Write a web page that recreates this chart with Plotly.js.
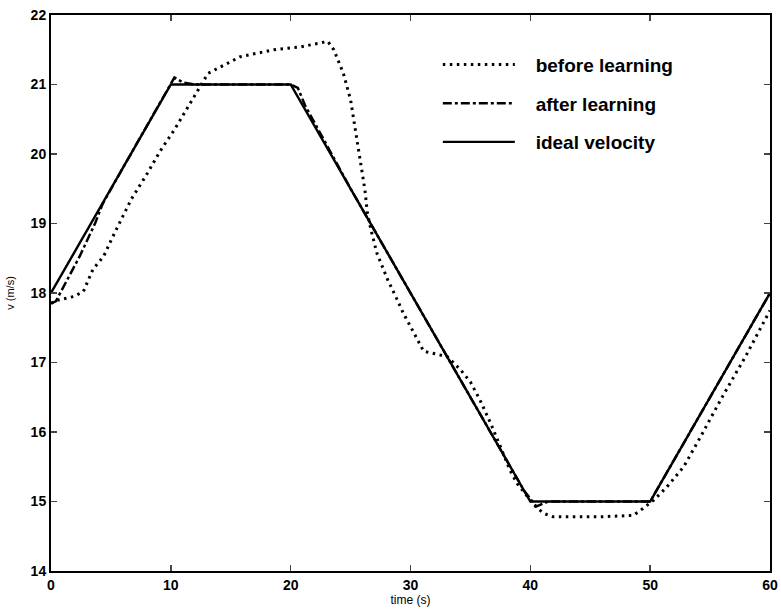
<!DOCTYPE html>
<html>
<head>
<meta charset="utf-8">
<script src="https://cdn.plot.ly/plotly-3.0.1.min.js"></script>
<style>html,body{margin:0;padding:0;background:#fff;}#chart{width:781px;height:614px;}</style>
</head>
<body>
<div id="chart"></div>
<script>
const idealT = [0, 10, 20, 40, 50, 60];
const idealV = [18, 21, 21, 15, 15, 18];

const afterT = [0, 0.4, 1.2, 2.4, 3.7, 4.3, 6, 8, 9.5, 10.3, 11, 12, 15, 18, 20, 20.6, 21.2, 25, 30, 35, 39.5, 40.5, 41.5, 45, 50, 52, 55, 58, 60];
const afterV = [17.85, 17.88, 18.14, 18.53, 19.01, 19.28, 19.8, 20.4, 20.85, 21.1, 21.03, 21.0, 21.0, 21.0, 21.0, 20.95, 20.7, 19.5, 18, 16.5, 15.15, 14.93, 15.0, 15.0, 15.0, 15.6, 16.5, 17.4, 18.0];

const beforeT = [0, 0.4, 1.9, 2.7, 3.5, 4.4, 5.1, 5.9, 6.7, 8.0, 9.1, 10.3, 11.9, 13.1, 15.8, 18.6, 20.8, 23.1, 23.6, 24.4, 25.0, 25.4, 25.8, 26.2, 26.4, 26.7, 27.2, 28.1, 28.9, 29.4, 30.3, 31.1, 32.2, 33.1, 34.2, 35.0, 35.8, 36.7, 37.5, 38.3, 38.9, 40.3, 41.1, 41.9, 45.8, 48.6, 49.4, 50.3, 51.4, 52.8, 54.2, 56, 58, 60];
const beforeV = [17.85, 17.89, 17.95, 18.02, 18.34, 18.53, 18.79, 19.06, 19.35, 19.71, 20.04, 20.35, 20.82, 21.16, 21.4, 21.5, 21.54, 21.62, 21.5, 21.16, 20.78, 20.35, 19.91, 19.48, 19.15, 18.91, 18.57, 18.19, 17.9, 17.71, 17.42, 17.16, 17.12, 17.08, 16.89, 16.72, 16.46, 16.12, 15.79, 15.45, 15.26, 14.95, 14.83, 14.78, 14.78, 14.8, 14.9, 15.02, 15.21, 15.5, 15.93, 16.5, 17.1, 17.75];

const xTicks = [0, 10, 20, 30, 40, 50, 60];
const yTicks = [14, 15, 16, 17, 18, 19, 20, 21, 22];
const seriesNames = ['before learning', 'after learning', 'ideal velocity'];

const pad = '\u00a0\u00a0\u00a0';
const traces = [
  {x: beforeT, y: beforeV, mode: 'lines', name: pad + seriesNames[0], legendgroup: 'a', line: {color: '#000', width: 3, dash: '2.5px,4.5px'}},
  {x: afterT, y: afterV, mode: 'lines', name: pad + seriesNames[1], legendgroup: 'b', line: {color: '#000', width: 2.5, dash: 'dashdot'}},
  {x: idealT, y: idealV, mode: 'lines', name: pad + seriesNames[2], legendgroup: 'c', line: {color: '#000', width: 2.4}}
];

const fontFam = 'Liberation Sans, Arial, sans-serif';
const layout = {
  width: 781, height: 614,
  margin: {l: 51, r: 11, t: 15, b: 43},
  paper_bgcolor: '#fff', plot_bgcolor: '#fff',
  font: {family: fontFam, color: '#000', size: 14},
  showlegend: true,
  legend: {x: 0.538, y: 0.945, xanchor: 'left', yanchor: 'top', bgcolor: 'rgba(0,0,0,0)',
           font: {family: fontFam, size: 19, color: '#000', weight: 'bold'}, itemwidth: 72, tracegroupgap: 11, traceorder: 'grouped'},
  xaxis: {range: [0, 60], tickvals: xTicks, ticktext: xTicks.map(String), ticks: 'inside', ticklen: 6, tickwidth: 1.5,
          showline: true, linewidth: 2, linecolor: '#000', mirror: 'ticks', showgrid: false, zeroline: false,
          tickfont: {size: 14, family: fontFam, weight: 'bold'},
          title: {text: 'time (s)', font: {size: 12, family: fontFam}, standoff: 4}},
  yaxis: {range: [14, 22], tickvals: yTicks, ticktext: yTicks.map(String), ticks: 'inside', ticklen: 6, tickwidth: 1.5,
          showline: true, linewidth: 2, linecolor: '#000', mirror: 'ticks', showgrid: false, zeroline: false,
          tickfont: {size: 14, family: fontFam, weight: 'bold'},
          title: {text: 'v (m/s)', font: {size: 11, family: fontFam}, standoff: 14}}
};

Plotly.newPlot('chart', traces, layout, {displayModeBar: false, staticPlot: true});
</script>
</body>
</html>
